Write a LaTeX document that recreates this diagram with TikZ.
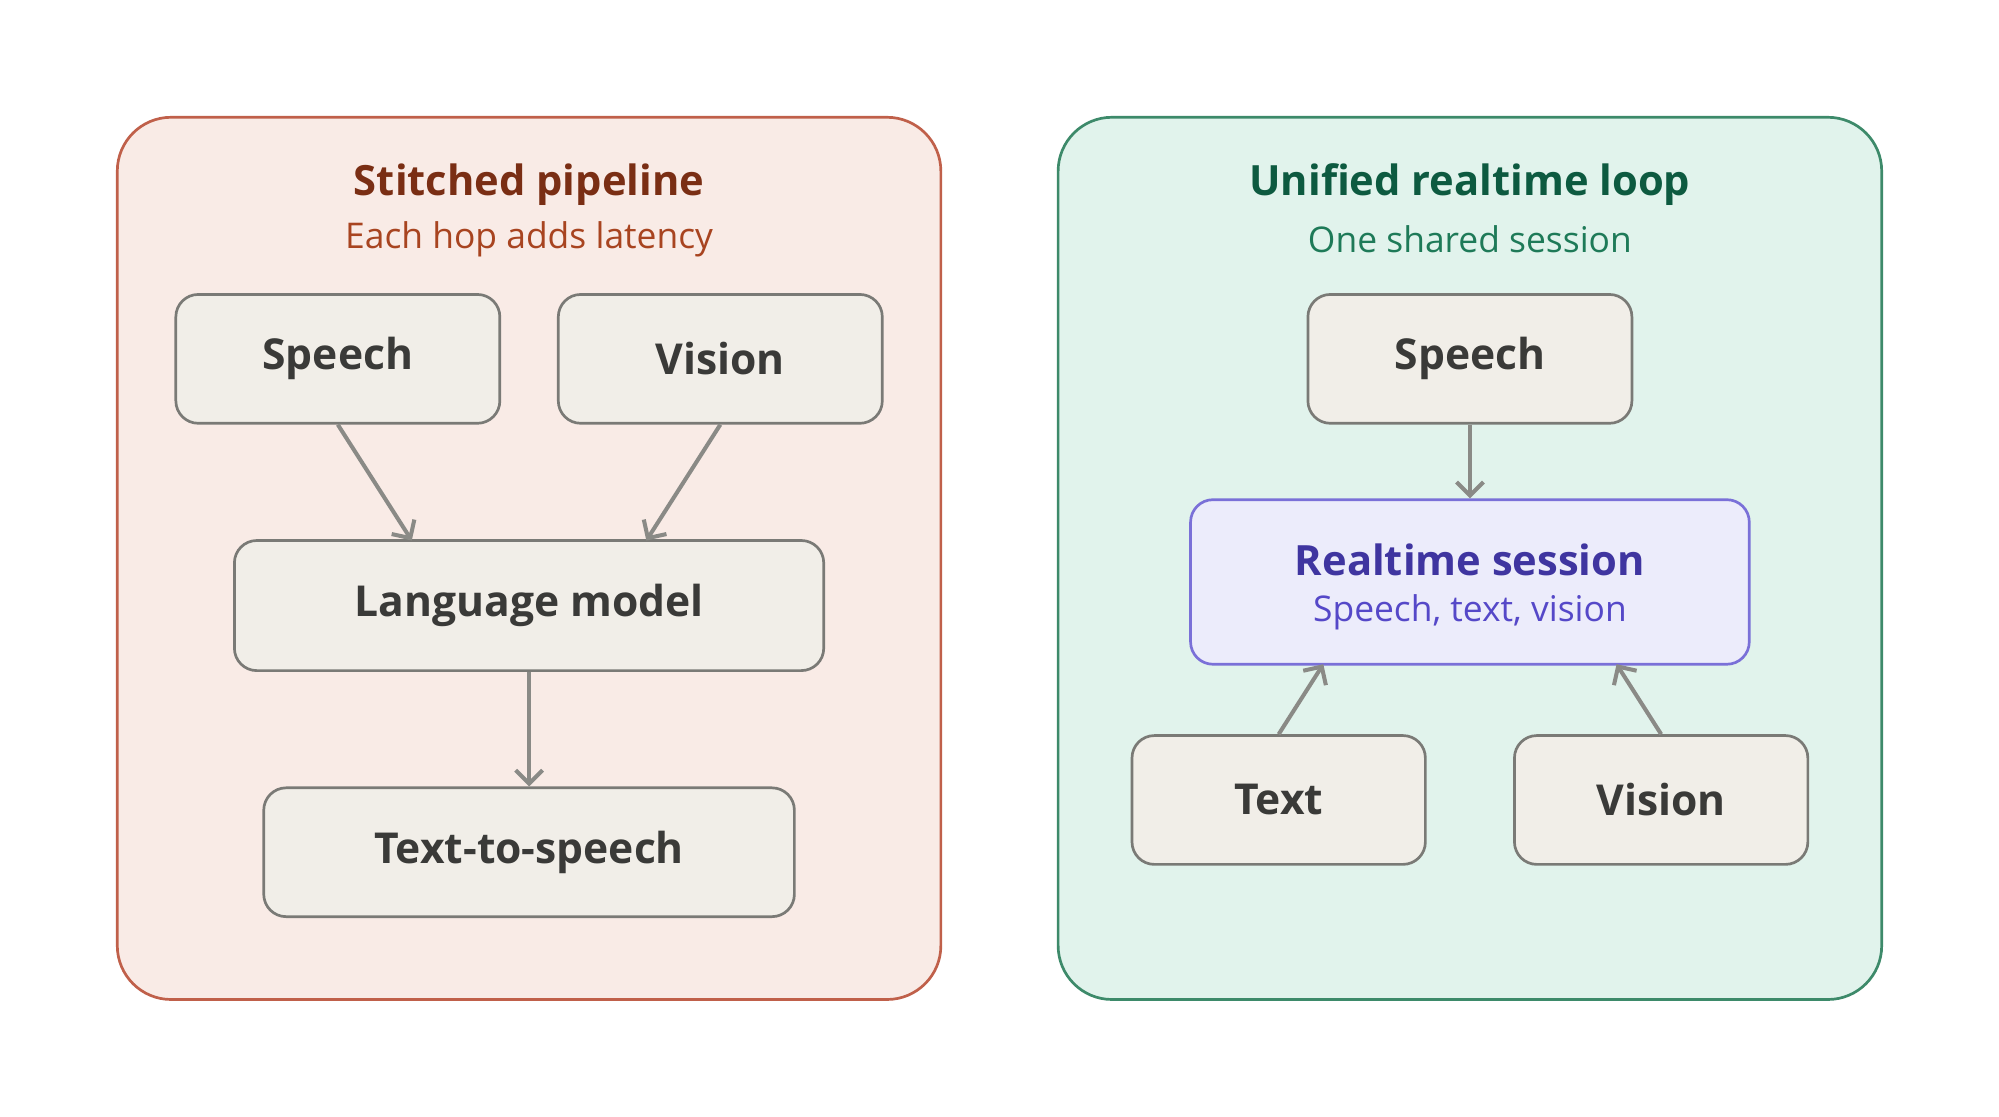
\documentclass[tikz,border=0pt]{standalone}
\usepackage{fontspec}
\setmainfont{Open Sans}
\usetikzlibrary{arrows.meta}
\definecolor{lfill}{HTML}{F9EBE6}\definecolor{ldraw}{HTML}{C0604A}
\definecolor{ltitle}{HTML}{7A2E14}\definecolor{lsub}{HTML}{A84420}
\definecolor{rfill}{HTML}{E1F3EC}\definecolor{rdraw}{HTML}{3D8A6A}
\definecolor{rtitle}{HTML}{0D5A40}\definecolor{rsub}{HTML}{1E7A58}
\definecolor{bfill}{HTML}{F1EEE8}\definecolor{bdraw}{HTML}{7A7A76}
\definecolor{pfill}{HTML}{ECECFB}\definecolor{pdraw}{HTML}{7A70D8}
\definecolor{ptitle}{HTML}{3F35A0}\definecolor{psub}{HTML}{5548C8}
\definecolor{arr}{HTML}{8A8A86}\definecolor{txt}{HTML}{3A3A38}
\tikzset{
 box/.style={draw=bdraw,fill=bfill,rounded corners=5pt,line width=0.6pt,text=txt,inner sep=0pt,font=\fontsize{9.5}{11}\selectfont\bfseries},
 conn/.style={draw=arr,line width=0.9pt,-{Straight Barb[length=3pt,width=6pt]}},
}
\begin{document}
\begin{tikzpicture}[x=0.01cm,y=-0.01cm]
\useasboundingbox[fill=white] (0,0) rectangle (1568,876);
\draw[draw=ldraw,fill=lfill,rounded corners=12pt,line width=0.6pt] (92,92) rectangle (738,784);
\draw[draw=rdraw,fill=rfill,rounded corners=12pt,line width=0.6pt] (830,92) rectangle (1476,784);
\node[text=ltitle,font=\fontsize{9.3}{11}\selectfont\bfseries] (lt) at (415,145) {Stitched pipeline};
\node[text=lsub,font=\fontsize{7.9}{10}\selectfont] (ls) at (415,188) {Each hop adds latency};
\node[text=rtitle,font=\fontsize{9.3}{11}\selectfont\bfseries] (rt) at (1153,145) {Unified realtime loop};
\node[text=rsub,font=\fontsize{7.9}{10}\selectfont] (rs) at (1153,188) {One shared session};
\node[box,minimum width=2.54cm,minimum height=1.01cm] (sp) at (265,281.5) {Speech};
\node[box,minimum width=2.54cm,minimum height=1.01cm] (vi) at (565,281.5) {Vision};
\node[box,minimum width=4.62cm,minimum height=1.02cm] (lm) at (415,475) {Language model};
\node[box,minimum width=4.16cm,minimum height=1.01cm] (tts) at (415,668.5) {Text-to-speech};
\node[box,minimum width=2.54cm,minimum height=1.01cm] (sp2) at (1153,281.5) {Speech};
\node[draw=pdraw,fill=pfill,rounded corners=5pt,line width=0.6pt,inner sep=0pt,minimum width=4.38cm,minimum height=1.29cm] (rs2) at (1153,456.5) {};
\node[text=ptitle,font=\fontsize{9.3}{11}\selectfont\bfseries] (rst) at (1153,439) {Realtime session};
\node[text=psub,font=\fontsize{7.9}{10}\selectfont] (rss) at (1153,480) {Speech, text, vision};
\node[box,minimum width=2.30cm,minimum height=1.01cm] (tx) at (1003,627.5) {Text};
\node[box,minimum width=2.30cm,minimum height=1.01cm] (vi2) at (1303,627.5) {Vision};
\coordinate (a1) at (323,424); \coordinate (a2) at (507,424);
\coordinate (a3) at (1038,521); \coordinate (a4) at (1268,521);
\draw[conn] (sp.south) -- (a1);
\draw[conn] (vi.south) -- (a2);
\draw[conn] (lm.south) -- (tts.north);
\draw[conn] (sp2.south) -- (rs2.north);
\draw[conn] (tx.north) -- (a3);
\draw[conn] (vi2.north) -- (a4);
\end{tikzpicture}
\end{document}
